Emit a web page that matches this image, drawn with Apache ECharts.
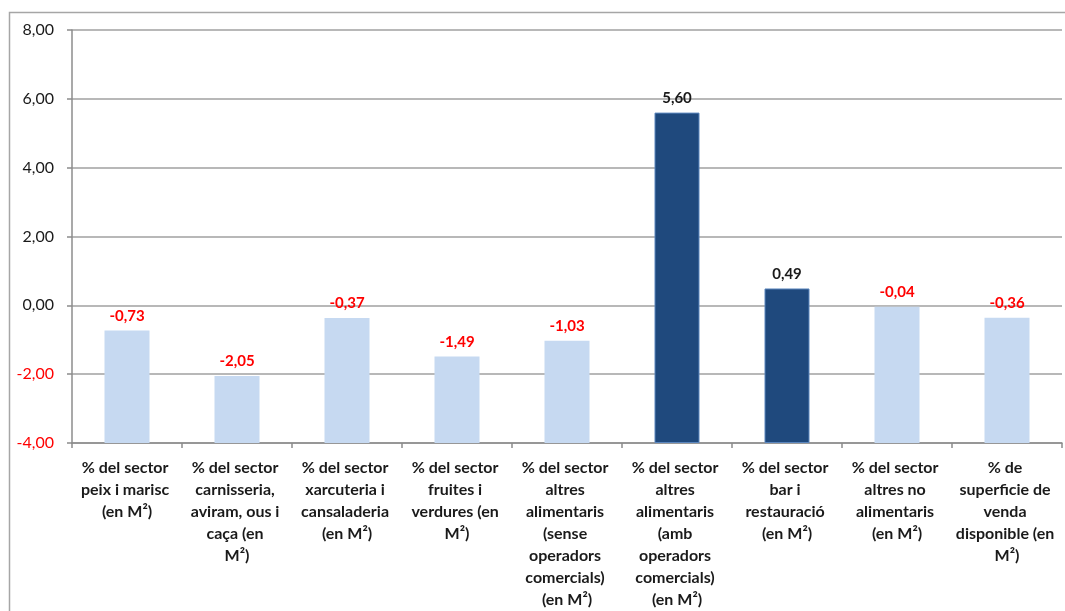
<!DOCTYPE html>
<html>
<head>
<meta charset="utf-8">
<script src="https://cdn.jsdelivr.net/npm/echarts@6/dist/echarts.min.js"></script>
<style>
html,body{margin:0;padding:0;background:#fff;}
#c{width:1065px;height:611px;}
</style>
</head>
<body>
<div id="c"></div>
<script>
var categories = [
  "% del sector peix i marisc (en M²)",
  "% del sector carnisseria, aviram, ous i caça (en M²)",
  "% del sector xarcuteria i cansaladeria (en M²)",
  "% del sector fruites i verdures (en M²)",
  "% del sector altres alimentaris (sense operadors comercials) (en M²)",
  "% del sector altres alimentaris (amb operadors comercials) (en M²)",
  "% del sector bar i restauració (en M²)",
  "% del sector altres no alimentaris (en M²)",
  "% de superficie de venda disponible (en M²)"
];
var values = [-0.73, -2.05, -0.37, -1.49, -1.03, 5.60, 0.49, -0.04, -0.36];
var yMin = -4, yMax = 8, yInterval = 2;

var FONT = 'Lato';
function fmt(v){ return v.toFixed(2).replace('.', ','); }

// bars rise from the axis minimum (as in the original chart)
var data = values.map(function(v){
  var neg = v < 0;
  return {
    value: v - yMin,
    itemStyle: neg ? {color:'#C6D9F1'} : {color:'#1F497D', borderColor:'#5B86BE', borderWidth:1},
    label: {color: neg ? '#FF0000' : '#1a1a1a'}
  };
});

var chart = echarts.init(document.getElementById('c'));
chart.setOption({
  animation:false,
  textStyle:{fontFamily:FONT},
  graphic:[{type:'rect', shape:{x:9.5,y:12.5,width:1200,height:800}, style:{fill:'none', stroke:'#a6a6a6', lineWidth:1.5}, silent:true}],
  grid:{left:72, right:3, top:30, bottom:168},
  xAxis:{
    type:'category', data:categories,
    axisLine:{lineStyle:{color:'#8c8c8c', width:1.5}},
    axisTick:{show:true, length:5, lineStyle:{color:'#8c8c8c', width:1.5}},
    axisLabel:{interval:0, width:103, overflow:'break', fontFamily:FONT, fontWeight:'bold', fontSize:16, lineHeight:22, color:'#1a1a1a', margin:14}
  },
  yAxis:{
    type:'value', min:0, max:yMax - yMin, interval:yInterval,
    axisLine:{show:true, lineStyle:{color:'#8c8c8c', width:1.5}},
    axisTick:{show:true, length:5, lineStyle:{color:'#8c8c8c', width:1.5}},
    splitLine:{lineStyle:{color:'#a0a0a0', width:1.5}},
    axisLabel:{
      margin:18, fontFamily:FONT, fontSize:16,
      formatter:function(v){ var r = v + yMin; return (r < 0 ? '{n|' : '{p|') + fmt(r) + '}'; },
      rich:{n:{color:'#FF0000', fontFamily:FONT, fontSize:16}, p:{color:'#1a1a1a', fontFamily:FONT, fontSize:16}}
    }
  },
  series:[{
    type:'bar', data:data, barWidth:45,
    label:{show:true, position:'top', distance:7, fontFamily:FONT, fontWeight:'bold', fontSize:15,
      formatter:function(p){ return fmt(values[p.dataIndex]); }}
  }]
});
</script>
</body>
</html>
